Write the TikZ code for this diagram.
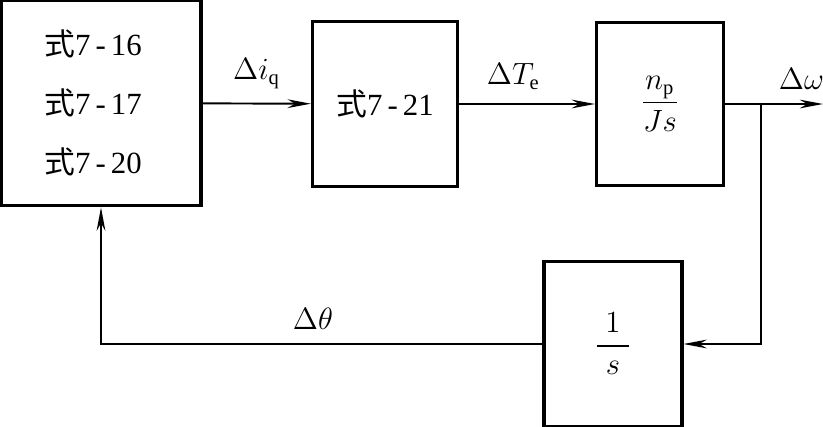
\documentclass[tikz,border=0pt]{standalone}
\usepackage{amsmath}
\usepackage{fontspec}
\setmainfont{Liberation Serif}
\newfontfamily\cjk{Noto Sans CJK SC}
\usetikzlibrary{arrows.meta, calc, positioning}

\begin{document}
\begin{tikzpicture}[x=0.0137cm, y=-0.0137cm, >={Stealth[length=3.2mm, width=1.2mm]}, font=\large,
  blk/.style={draw, line width=1.2pt, inner sep=0pt, align=center},
  sig/.style={->, line width=0.75pt}]
  \useasboundingbox (0,0) rectangle (823,427);
  % blocks
  \node[blk, minimum width=2.74cm, minimum height=2.82cm, align=left] (eqs) at (101,103)
    {{\cjk 式}7\,-\,16\hspace*{0.22cm}\\[9pt]{\cjk 式}7\,-\,17\hspace*{0.22cm}\\[9pt]{\cjk 式}7\,-\,20\hspace*{0.22cm}};
  \node[blk, minimum width=1.99cm, minimum height=2.26cm] (torq) at (385,104) {{\cjk 式}7\,-\,21};
  \node[blk, minimum width=1.74cm, minimum height=2.23cm] (mech) at (660,104) {$\dfrac{n_\mathrm{p}}{Js}$};
  \node[blk, minimum width=1.89cm, minimum height=2.25cm] (integ) at (613,344) {$\dfrac{\;1\;}{s}$};
  \coordinate (out) at (823,104);
  \coordinate (br) at (761,104);
  % signals
  \draw[sig] (eqs) -- (torq) node[midway, above=2pt] {$\Delta i_\mathrm{q}$};
  \draw[sig] (torq) -- (mech) node[pos=0.4, above=2pt] {$\Delta T_\mathrm{e}$};
  \draw[sig] (mech) -- (out) node[pos=0.78, above=2pt] {$\Delta\omega$};
  \draw[sig] (br) |- (integ);
  \draw[sig] (integ) -| (eqs) node[pos=0.26, above=2pt] {$\Delta\theta$};
\end{tikzpicture}
\end{document}
